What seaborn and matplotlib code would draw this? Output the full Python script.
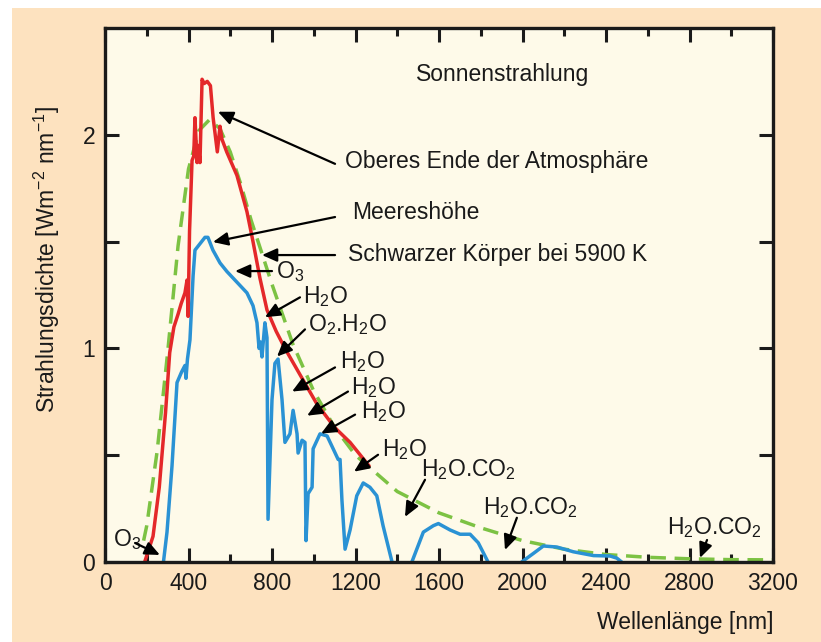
import numpy as np
import pandas as pd
import matplotlib
matplotlib.use("Agg")
import matplotlib.pyplot as plt
from matplotlib.patches import Rectangle
import seaborn as sns

# ---------------- data ----------------
# top of atmosphere (red)
toa_wl = [190, 230, 260, 290, 310, 330, 350, 365, 383, 393, 398, 405, 417, 425, 431, 441,
          447, 455, 465, 475, 490, 505, 518, 538, 551, 560, 583, 632, 680, 709, 742,
          776, 820, 862, 950, 1015, 1100, 1174, 1265]
toa_val = [0.0, 0.12, 0.35, 0.70, 0.98, 1.10, 1.16, 1.21, 1.26, 1.32, 1.15, 1.55, 1.88, 1.90,
           2.08, 1.87, 1.95, 1.87, 2.26, 2.24, 2.25, 2.23, 2.08, 1.92, 2.04, 1.98, 1.92,
           1.81, 1.64, 1.50, 1.33, 1.18, 1.08, 1.00, 0.85, 0.74, 0.63, 0.56, 0.45]

# sea level (blue), three separate bands
sea_seg = ([1] * 56) + ([2] * 9) + ([3] * 9)
sea_wl = [280, 297, 321, 345, 367, 383, 388, 395, 407, 422, 431, 455, 479, 493, 517,
          551, 584, 632, 680, 709, 728, 738, 745, 752, 766, 776, 781, 800, 814, 829,
          848, 862, 886, 901, 920, 925, 944, 958, 963, 973, 992, 997, 1030, 1064, 1093,
          1117, 1126, 1135, 1150, 1174, 1206, 1237, 1269, 1302, 1332, 1375,
          1470, 1525, 1573, 1597, 1653, 1701, 1749, 1788, 1835,
          1996, 2052, 2100, 2165, 2243, 2340, 2420, 2452, 2475]
sea_val = [0.0, 0.14, 0.45, 0.84, 0.89, 0.92, 0.86, 0.95, 1.04, 1.34, 1.46, 1.49, 1.52,
           1.52, 1.46, 1.40, 1.36, 1.31, 1.26, 1.20, 1.12, 1.00, 1.03, 0.96, 1.12, 1.05,
           0.20, 0.76, 0.93, 0.95, 0.76, 0.56, 0.60, 0.71, 0.60, 0.51, 0.57, 0.56, 0.10,
           0.32, 0.35, 0.53, 0.60, 0.59, 0.53, 0.48, 0.48, 0.29, 0.06, 0.15, 0.31, 0.37,
           0.35, 0.31, 0.17, 0.0,
           0.0, 0.14, 0.17, 0.18, 0.15, 0.13, 0.13, 0.09, 0.0,
           0.0, 0.04, 0.075, 0.07, 0.048, 0.03, 0.028, 0.018, 0.0]

# black body 5900 K (green dashed)
bb_wl = [185, 200, 250, 300, 350, 400, 450, 500, 550, 600, 650, 700, 800, 900, 1000,
         1100, 1200, 1400, 1600, 1800, 2000, 2200, 2400, 2600, 2800, 3000, 3200]
bb_val = [0.10, 0.17, 0.52, 0.98, 1.48, 1.84, 2.02, 2.07, 2.03, 1.92, 1.77, 1.60, 1.30,
          1.02, 0.80, 0.63, 0.50, 0.33, 0.23, 0.16, 0.10, 0.06, 0.035, 0.022, 0.015,
          0.011, 0.010]

x_ticks = [0, 400, 800, 1200, 1600, 2000, 2400, 2800, 3200]
y_ticks = [0, 0.5, 1, 1.5, 2]
y_ticklabels = ["0", "", "1", "", "2"]

# annotations: (text, text_x, text_y, tail_x, tail_y, head_x, head_y)
ann_text = ["Oberes Ende der Atmosphäre", "Meereshöhe", "Schwarzer Körper bei 5900 K",
            "O$_3$", "H$_2$O", "O$_2$.H$_2$O", "H$_2$O", "H$_2$O", "H$_2$O", "H$_2$O",
            "H$_2$O.CO$_2$", "H$_2$O.CO$_2$", "H$_2$O.CO$_2$", "O$_3$"]
ann_tx = [1150, 1183, 1164, 819, 948, 972, 1126, 1178, 1226, 1327, 1514, 1811, 2692, 38]
ann_ty = [1.873, 1.634, 1.441, 1.36, 1.244, 1.113, 0.939, 0.817, 0.704, 0.526, 0.432,
          0.254, 0.160, 0.103]
arr_x0 = [1102, 1102, 1102, 800, 934, 958, 1102, 1164, 1198, 1308, 1533, 1973, 2884, 144]
arr_y0 = [1.864, 1.615, 1.437, 1.362, 1.239, 1.089, 0.911, 0.798, 0.690, 0.502, 0.385,
          0.207, 0.103, 0.089]
arr_x1 = [541, 517, 752, 623, 766, 824, 896, 968, 1035, 1193, 1437, 1916, 2850, 263]
arr_y1 = [2.108, 1.498, 1.437, 1.362, 1.146, 0.962, 0.798, 0.685, 0.601, 0.423, 0.211,
          0.056, 0.019, 0.033]

# ---------------- style ----------------
sns.set_style("ticks")
plt.rcParams["font.family"] = ["Liberation Sans", "DejaVu Sans"]
plt.rcParams["mathtext.default"] = "regular"

RED = "#e4282a"
BLUE = "#2a92d4"
GREEN = "#7cc243"
PEACH = "#fde2bf"
AXBG = "#fefae9"
INK = "#1a1a1a"
FS = 16.5

fig = plt.figure(figsize=(8.21, 6.42), dpi=100, facecolor="white")
fig.patches.append(Rectangle((12 / 821, 0), 1 - 12 / 821, (642 - 8) / 642,
                             transform=fig.transFigure, facecolor=PEACH,
                             edgecolor="none", zorder=-10))
ax = fig.add_axes([105 / 821, 80 / 642, 668 / 821, 534 / 642])
ax.set_facecolor(AXBG)

df_bb = pd.DataFrame({"wl": bb_wl, "val": bb_val})
df_sea = pd.DataFrame({"wl": sea_wl, "val": sea_val, "seg": sea_seg})
df_toa = pd.DataFrame({"wl": toa_wl, "val": toa_val})

sns.lineplot(data=df_bb, x="wl", y="val", ax=ax, color=GREEN, lw=2.5,
             linestyle=(0, (4.5, 2.5)), sort=False)
sns.lineplot(data=df_sea, x="wl", y="val", units="seg", estimator=None, ax=ax,
             color=BLUE, lw=2.5, sort=False, solid_joinstyle="round")
sns.lineplot(data=df_toa, x="wl", y="val", ax=ax, color=RED, lw=2.5, sort=False,
             solid_joinstyle="round")

ax.set_xlim(0, 3200)
ax.set_ylim(0, 2.5)
ax.set_xticks(x_ticks)
ax.set_xticks(np.arange(200, 3200, 400), minor=True)
ax.set_yticks(y_ticks)
ax.set_yticklabels(y_ticklabels)
ax.tick_params(which="both", direction="in", top=True, right=True, width=2.2,
               color=INK, labelsize=FS, labelcolor=INK)
ax.tick_params(which="major", length=10, pad=7)
ax.tick_params(which="minor", length=5.5)
for sp in ax.spines.values():
    sp.set_linewidth(2.4)
    sp.set_color(INK)

ax.set_xlabel("Wellenlänge [nm]", fontsize=FS, color=INK, loc="right")
ax.xaxis.set_label_coords(1.0, -0.092)
ax.set_ylabel("Strahlungsdichte [Wm$^{-2}$ nm$^{-1}$]", fontsize=FS, color=INK)
ax.yaxis.set_label_coords(-0.064, 0.566)

ax.text(1906, 2.28, "Sonnenstrahlung", fontsize=FS, ha="center", va="center", color=INK)

for t, tx, ty, x0, y0, x1, y1 in zip(ann_text, ann_tx, ann_ty, arr_x0, arr_y0, arr_x1, arr_y1):
    ax.text(tx, ty, t, fontsize=FS, ha="left", va="center", color=INK)
    ax.annotate("", xy=(x1, y1), xytext=(x0, y0),
                arrowprops=dict(arrowstyle="-|>,head_length=0.45,head_width=0.2",
                                color="black", lw=1.6, mutation_scale=20,
                                shrinkA=0, shrinkB=0))

fig.savefig("out.png", dpi=100, facecolor="white")
